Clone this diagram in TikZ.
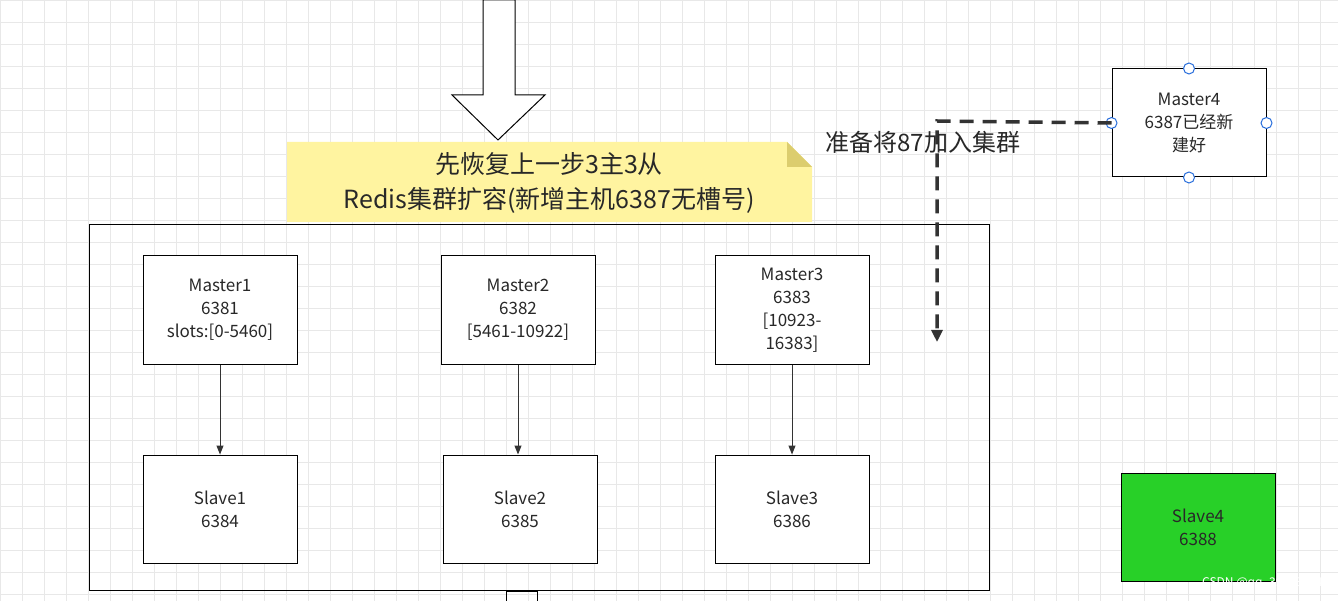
\documentclass[tikz,border=0pt]{standalone}
\usepackage{fontspec}
\setmainfont{Noto Sans CJK SC}
\usetikzlibrary{arrows.meta}
\definecolor{gridc}{RGB}{232,232,232}
\definecolor{notey}{RGB}{255,244,160}
\definecolor{notef}{RGB}{220,205,110}
\definecolor{txt}{RGB}{40,40,40}
\definecolor{greenb}{RGB}{40,208,40}
\definecolor{handle}{RGB}{40,110,220}
\tikzset{
  box/.style={draw=black,line width=1pt,fill=white,minimum width=154pt,minimum height=108pt,inner sep=0pt,align=center,text=txt,font=\fontsize{17}{23}\selectfont},
  conn/.style={draw=black!80,line width=1pt,-{Triangle[length=9pt,width=7pt]}},
  hnd/.style={circle,draw=handle,fill=white,line width=1pt,minimum size=11pt,inner sep=0pt}
}
\begin{document}
\begin{tikzpicture}[x=1pt,y=-1pt]
\useasboundingbox (0,0) rectangle (1338,601);
\fill[white] (0,0) rectangle (1338,601);
\draw[gridc,line width=0.8pt] (0,0) grid[step=22pt] (1338,601);
% hollow arrow
\draw[line width=1pt,fill=white] (483,0) -- (515,0) -- (515,95) -- (545,95) -- (498,140) -- (452,95) -- (483,95) -- cycle;
% note
\fill[notey] (287,142) -- (787,142) -- (812,167) -- (812,222) -- (287,222) -- cycle;
\fill[notef] (787,142) -- (787,167) -- (812,167) -- cycle;
\node[align=center,text=txt,font=\fontsize{25}{35}\selectfont] (note) at (549,183) {先恢复上一步3主3从\\Redis集群扩容(新增主机6387无槽号)};
% container
\draw[line width=1pt] (89,225) rectangle (989,590);
\draw[line width=1pt] (506,601) -- (506,591) -- (537,591) -- (537,601);
% masters
\node[box] (m1) at (220,310) {Master1\\6381\\slots:{[}0-5460{]}};
\node[box] (m2) at (518,310) {Master2\\6382\\{[}5461-10922{]}};
\node[box] (m3) at (792,310) {Master3\\6383\\{[}10923-\\16383{]}};
\node[box] (s1) at (220,509) {Slave1\\6384};
\node[box] (s2) at (520,509) {Slave2\\6385};
\node[box] (s3) at (792,509) {Slave3\\6386};
\draw[conn] (m1) -- (s1);
\draw[conn] (m2.south) -- (m2.south|-s2.north);
\draw[conn] (m3) -- (s3);
% master4
\node[box] (m4) at (1189,123) {Master4\\6387已经新\\建好};
\foreach \a in {north,south,east,west} \node[hnd] at (m4.\a) {};
\node[box,fill=greenb] (s4) at (1198,527) {Slave4\\6388};
\coordinate (bend) at (937,121);
\coordinate (end) at (937,342);
\draw[line width=3.5pt,black!80,dash pattern=on 14pt off 9pt,-{Triangle[length=12pt,width=11pt]}] (m4.west) -- (bend) -- (end);
\node[anchor=west,text=txt,font=\fontsize{24}{30}\selectfont] (lab) at (822,142) {准备将87加入集群};
\node[anchor=east,text=white,font=\fontsize{12}{14}\selectfont] (wm) at (1326,583) {CSDN @qq\_39093474};
\end{tikzpicture}
\end{document}
